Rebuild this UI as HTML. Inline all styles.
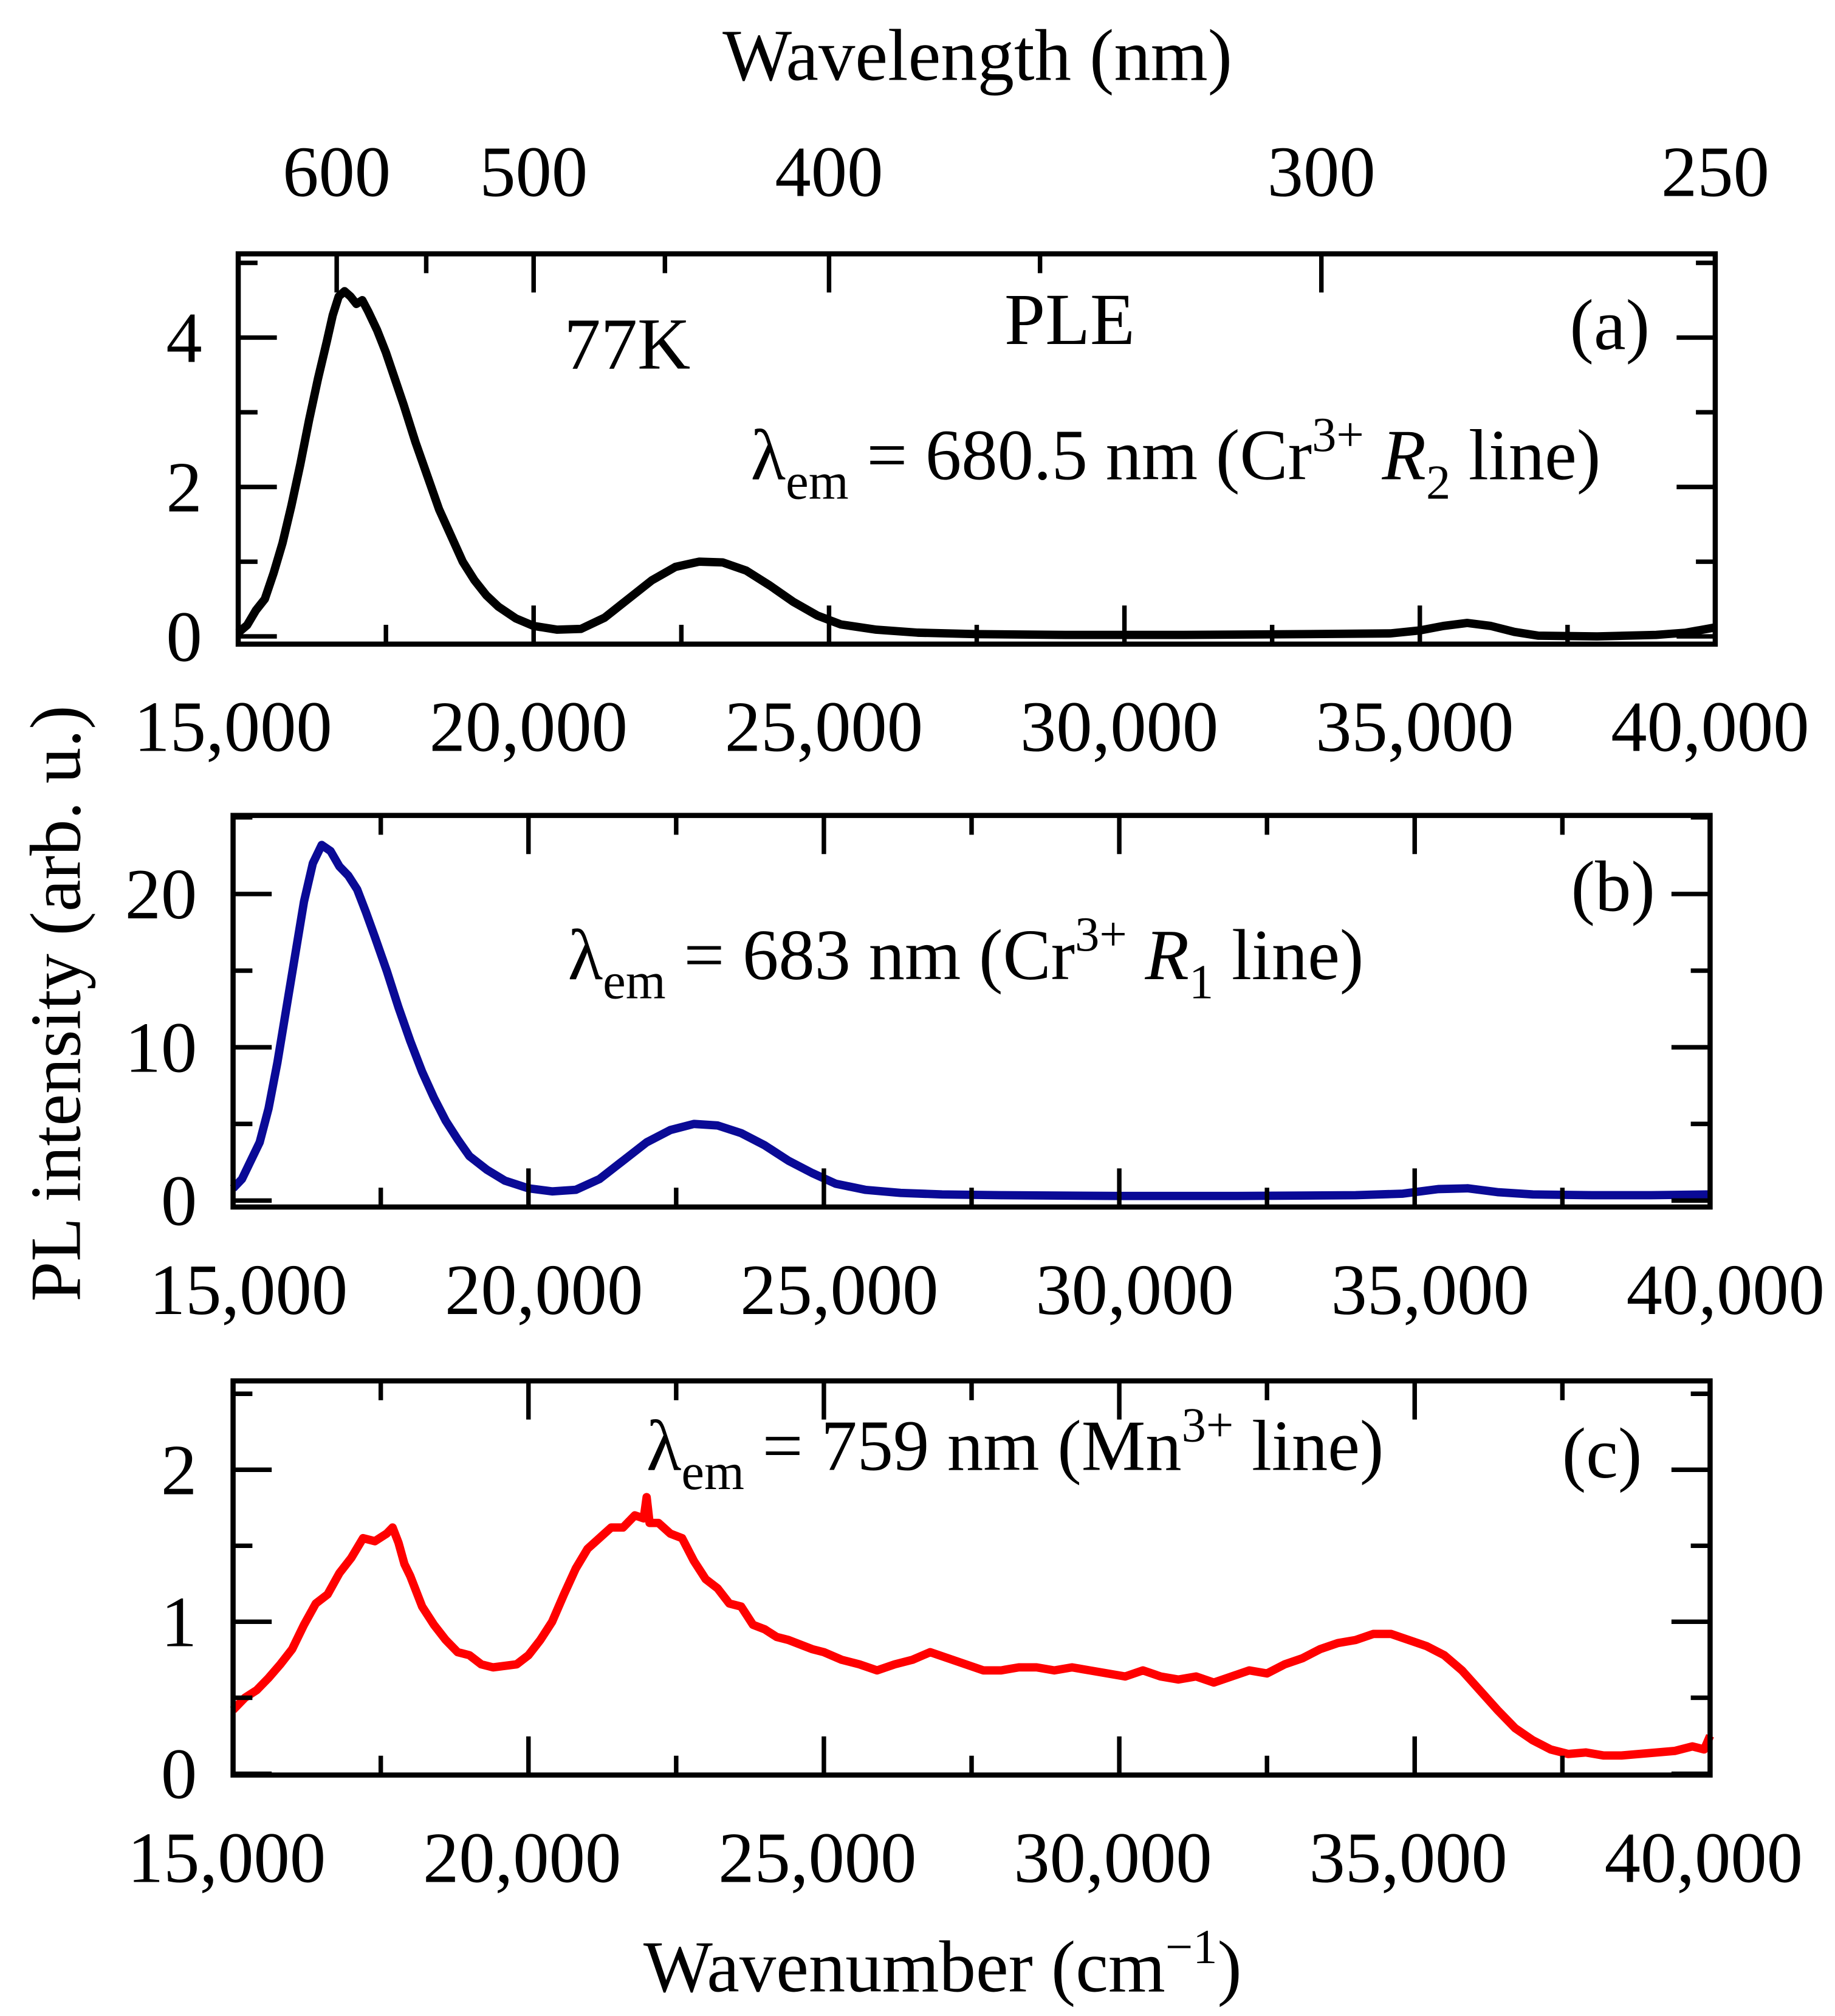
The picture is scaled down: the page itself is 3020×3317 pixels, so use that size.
<!DOCTYPE html>
<html><head><meta charset="utf-8">
<style>
html,body{margin:0;padding:0;background:#fff;}
svg{display:block;}
text{font-family:"Liberation Serif",serif;fill:#000;}
</style></head>
<body>
<svg id="chart" xmlns="http://www.w3.org/2000/svg" width="3020" height="3317" viewBox="0 0 1425 1565">
<rect width="1425" height="1565" fill="#fff"/>
<g id="g"></g>
<text x="759" y="62" font-size="57" text-anchor="middle">Wavelength (nm)</text>
<text x="732" y="1546" font-size="57" text-anchor="middle">Wavenumber (cm<tspan dy="-22" font-size="38">−1</tspan><tspan dy="22">)</tspan></text>
<text transform="translate(62,779) rotate(-90)" font-size="56" text-anchor="middle">PL intensity (arb. u.)</text>
<text x="438" y="286" font-size="57">77K</text>
<text x="780" y="267" font-size="57">PLE</text>
<text x="1219" y="271" font-size="56">(a)</text>
<text x="1220" y="707" font-size="56">(b)</text>
<text x="1213" y="1147" font-size="56">(c)</text>
<text x="583" y="372" font-size="56">λ<tspan dy="15" font-size="40">em</tspan><tspan dy="-15"> = 680.5 nm (Cr</tspan><tspan dy="-22" font-size="38">3+</tspan><tspan dy="22"> </tspan><tspan font-style="italic">R</tspan><tspan dy="15" font-size="38">2</tspan><tspan dy="-15"> line)</tspan></text>
<text x="441" y="760" font-size="56">λ<tspan dy="15" font-size="40">em</tspan><tspan dy="-15"> = 683 nm (Cr</tspan><tspan dy="-22" font-size="38">3+</tspan><tspan dy="22"> </tspan><tspan font-style="italic">R</tspan><tspan dy="15" font-size="38">1</tspan><tspan dy="-15"> line)</tspan></text>
<text x="502" y="1141" font-size="56">λ<tspan dy="15" font-size="40">em</tspan><tspan dy="-15"> = 759 nm (Mn</tspan><tspan dy="-22" font-size="38">3+</tspan><tspan dy="22"> line)</tspan></text>
</svg>
<script>
const xTickValues=[15000,20000,25000,30000,35000,40000];
const xTickLabels=["15,000","20,000","25,000","30,000","35,000","40,000"];
const wlTickValues=[600,500,400,300,250];
const wlMinor=[550,450,350];
const aTicks=[0,2,4];
const bTicks=[0,10,20];
const cTicks=[0,1,2];
const aX=[15000,15150,15300,15450,15600,15750,15900,16050,16200,16350,16500,16600,16700,16800,16900,17000,17100,17200,17350,17500,17650,17800,18000,18200,18400,18600,18800,19000,19200,19400,19700,20000,20400,20800,21200,21600,22000,22400,22800,23200,23600,24000,24400,24800,25200,25800,26500,27500,29000,31000,33000,34500,35000,35400,35800,36200,36600,37000,38000,39000,39500,40000];
const aY=[0.05,0.15,0.35,0.5,0.85,1.25,1.75,2.3,2.9,3.45,3.95,4.3,4.55,4.62,4.55,4.45,4.5,4.35,4.1,3.8,3.45,3.1,2.6,2.15,1.7,1.35,1.0,0.75,0.55,0.4,0.24,0.14,0.09,0.1,0.25,0.5,0.75,0.93,1.0,0.99,0.88,0.68,0.46,0.28,0.16,0.09,0.05,0.03,0.02,0.02,0.03,0.04,0.08,0.14,0.18,0.14,0.06,0.01,0.0,0.02,0.05,0.12];
const bX=[15000,15150,15300,15450,15600,15750,15900,16050,16200,16350,16500,16650,16800,16950,17100,17250,17400,17600,17800,18000,18200,18400,18600,18800,19000,19300,19600,20000,20400,20800,21200,21600,22000,22400,22800,23200,23600,24000,24400,24800,25200,25700,26300,27000,28000,30000,32000,34000,34800,35400,35900,36400,37000,38000,39000,40000];
const bY=[0.8,1.4,2.6,3.8,6.0,9.0,12.5,16.0,19.5,22.0,23.2,22.8,21.8,21.2,20.3,18.8,17.2,15.0,12.6,10.4,8.4,6.7,5.2,4.0,2.9,2.0,1.3,0.8,0.6,0.7,1.4,2.6,3.8,4.6,5.0,4.9,4.4,3.6,2.6,1.8,1.1,0.7,0.5,0.4,0.35,0.3,0.3,0.35,0.45,0.75,0.8,0.55,0.4,0.35,0.35,0.4];
const cX=[15000,15200,15400,15600,15800,16000,16200,16400,16600,16800,17000,17200,17400,17600,17700,17800,17900,18000,18200,18400,18600,18800,19000,19200,19400,19600,19800,20000,20200,20400,20600,20800,21000,21200,21400,21600,21800,21950,22000,22050,22200,22400,22600,22800,23000,23200,23400,23600,23800,24000,24200,24400,24600,24800,25000,25300,25600,25900,26200,26500,26800,27100,27400,27700,28000,28300,28600,28900,29200,29500,29800,30100,30400,30700,31000,31300,31600,31900,32200,32500,32800,33100,33400,33700,34000,34300,34600,34900,35200,35500,35800,36100,36400,36700,37000,37300,37600,37900,38200,38500,38800,39100,39400,39700,39900,40000];
const cY=[0.42,0.5,0.55,0.63,0.72,0.82,0.98,1.12,1.18,1.32,1.42,1.55,1.53,1.58,1.62,1.52,1.38,1.3,1.1,0.98,0.88,0.8,0.78,0.72,0.7,0.71,0.72,0.78,0.88,1.0,1.18,1.35,1.48,1.55,1.62,1.62,1.7,1.68,1.82,1.65,1.65,1.58,1.55,1.4,1.28,1.22,1.12,1.1,0.98,0.95,0.9,0.88,0.85,0.82,0.8,0.75,0.72,0.68,0.72,0.75,0.8,0.76,0.72,0.68,0.68,0.7,0.7,0.68,0.7,0.68,0.66,0.64,0.68,0.64,0.62,0.64,0.6,0.64,0.68,0.66,0.72,0.76,0.82,0.86,0.88,0.92,0.92,0.88,0.84,0.78,0.68,0.55,0.42,0.3,0.22,0.16,0.13,0.14,0.12,0.12,0.13,0.14,0.15,0.18,0.16,0.25];

const SVGNS="http://www.w3.org/2000/svg";
const G=document.getElementById('g');
function mk(tag,attrs,parent){const e=document.createElementNS(SVGNS,tag);for(const k in attrs)e.setAttribute(k,attrs[k]);(parent||G).appendChild(e);return e;}

function panel(p){
  const xs=v=>p.l+(v-15000)/25000*(p.r-p.l);
  const ys=v=>p.y0-v*p.k;
  const grp=mk('g',{});
  
  
  let d='';
  p.X.forEach((x,i)=>{d+=(i?'L':'M')+xs(x).toFixed(2)+' '+ys(p.Y[i]).toFixed(2);});
  const path=mk('path',{d:d,fill:'none',stroke:p.color,'stroke-width':6.5,'stroke-linejoin':'round'},grp);
  
  
  const ymax=(p.y0-p.t)/p.k;
  for(let v=0;v<=ymax;v+=p.minor){
    const major=Math.abs(v/p.major-Math.round(v/p.major))<1e-6;
    const len=major?30:15;
    mk('line',{x1:p.l,x2:p.l+len,y1:ys(v),y2:ys(v),stroke:'#000','stroke-width':3.5},grp);
    mk('line',{x1:p.r,x2:p.r-len,y1:ys(v),y2:ys(v),stroke:'#000','stroke-width':3.5},grp);
  }
  p.yt.forEach(v=>{
    const t=mk('text',{x:p.l-28,y:ys(v)+19,'font-size':56,'text-anchor':'end'},grp);
    t.textContent=String(v);
    
    
  });
  for(let v=15000;v<=40000;v+=2500){
    const major=v%5000===0;const len=major?30:15;
    mk('line',{x1:xs(v),x2:xs(v),y1:p.b,y2:p.b-len,stroke:'#000','stroke-width':3.5},grp);
    if(!p.wl) mk('line',{x1:xs(v),x2:xs(v),y1:p.t,y2:p.t+len,stroke:'#000','stroke-width':3.5},grp);
  }
  xTickValues.forEach((v,i)=>{
    const t=mk('text',{x:xs(v)+p.lo,y:p.b+83,'font-size':56,'text-anchor':'middle'},grp);
    t.textContent=xTickLabels[i];
    
    
  });
  if(p.wl){
    wlTickValues.forEach(w=>{
      const x=xs(1e7/w);
      mk('line',{x1:x,x2:x,y1:p.t,y2:p.t+30,stroke:'#000','stroke-width':3.5},grp);
      const t=mk('text',{x:x,y:152,'font-size':56,'text-anchor':'middle'},grp);
      t.textContent=String(w);
      
      
    });
    wlMinor.forEach(w=>{const x=xs(1e7/w);mk('line',{x1:x,x2:x,y1:p.t,y2:p.t+15,stroke:'#000','stroke-width':3.5},grp);});
  }
  const fr=mk('rect',{x:p.l,y:p.t,width:p.r-p.l,height:p.b-p.t,fill:'none',stroke:'#000','stroke-width':4},grp);
  
  
}
panel({name:'panel-a',l:185,r:1332,t:197,b:500,y0:494,k:58,X:aX,Y:aY,color:'#000',yt:aTicks,minor:1,major:2,wl:true,lo:-4});
panel({name:'panel-b',l:181,r:1328,t:633,b:937,y0:932,k:11.9,X:bX,Y:bY,color:'#0a0a96',yt:bTicks,minor:5,major:10,lo:12});
panel({name:'panel-c',l:181,r:1328,t:1072,b:1378,y0:1377,k:118,X:cX,Y:cY,color:'#ff0000',yt:cTicks,minor:0.5,major:1,lo:-5});
</script>
</body></html>
